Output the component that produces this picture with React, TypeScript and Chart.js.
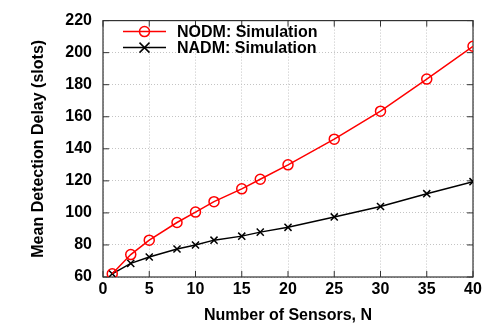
import React, { useEffect, useRef } from "react";
import { Chart, registerables } from "chart.js";

Chart.register(...registerables);

const sensors = [1, 3, 5, 8, 10, 12, 15, 17, 20, 25, 30, 35, 40];
const nodmValues = [62, 74, 83, 94, 100.5, 107, 115, 121, 130, 146, 163.5, 183.5, 204];
const nadmValues = [62, 68.5, 72.5, 77.5, 80, 83, 85.5, 88, 91, 97.5, 104, 112, 119.5];
const seriesLabels = ["NODM: Simulation", "NADM: Simulation"];
const xTitle = "Number of Sensors, N";
const yTitle = "Mean Detection Delay (slots)";

const FONT = "'Liberation Sans', Arial, Helvetica, sans-serif";

const framePlugin = {
  id: "frame",
  beforeDatasetsDraw(chart: any) {
    const { ctx, chartArea: a, scales } = chart;
    ctx.save();
    ctx.strokeStyle = "#333";
    ctx.lineWidth = 1.2;
    ctx.setLineDash([]);
    ctx.strokeRect(a.left, a.top, a.right - a.left, a.bottom - a.top);
    const tl = 6;
    ctx.lineWidth = 1;
    ctx.beginPath();
    scales.x.ticks.forEach((t: any) => {
      const px = scales.x.getPixelForValue(t.value);
      ctx.moveTo(px, a.bottom);
      ctx.lineTo(px, a.bottom - tl);
      ctx.moveTo(px, a.top);
      ctx.lineTo(px, a.top + tl);
    });
    scales.y.ticks.forEach((t: any) => {
      const py = scales.y.getPixelForValue(t.value);
      ctx.moveTo(a.left, py);
      ctx.lineTo(a.left + tl, py);
      ctx.moveTo(a.right, py);
      ctx.lineTo(a.right - tl, py);
    });
    ctx.stroke();
    ctx.restore();
  },
  afterDatasetsDraw(chart: any) {
    const { ctx, chartArea: a } = chart;
    ctx.save();
    const x0 = a.left + 20;
    const x1 = a.left + 63;
    const xm = (x0 + x1) / 2;
    const rows = [a.top + 11, a.top + 27];
    chart.data.datasets.forEach((ds: any, i: number) => {
      const y = rows[i];
      ctx.strokeStyle = ds.borderColor;
      ctx.lineWidth = 1.5;
      ctx.beginPath();
      ctx.moveTo(x0, y);
      ctx.lineTo(x1, y);
      ctx.stroke();
      ctx.beginPath();
      if (ds.pointStyle === "circle") {
        ctx.arc(xm, y, 5, 0, Math.PI * 2);
      } else {
        const r = 5;
        ctx.moveTo(xm - r, y - r);
        ctx.lineTo(xm + r, y + r);
        ctx.moveTo(xm - r, y + r);
        ctx.lineTo(xm + r, y - r);
      }
      ctx.stroke();
      ctx.fillStyle = "#000";
      ctx.font = `bold 16px ${FONT}`;
      ctx.textBaseline = "middle";
      ctx.textAlign = "left";
      ctx.fillText(ds.label, x1 + 11, y + 1);
    });
    ctx.restore();
  },
};

export default function App() {
  const ref = useRef<HTMLCanvasElement>(null);
  useEffect(() => {
    if (!ref.current) return;
    const chart = new Chart(ref.current, {
      type: "line",
      data: {
        datasets: [
          {
            label: seriesLabels[0],
            data: sensors.map((x, i) => ({ x, y: nodmValues[i] })),
            borderColor: "#ff0000",
            backgroundColor: "transparent",
            borderWidth: 1.5,
            pointStyle: "circle",
            pointRadius: 5,
            pointBorderWidth: 1.5,
            pointBorderColor: "#ff0000",
            pointBackgroundColor: "transparent",
            tension: 0,
          },
          {
            label: seriesLabels[1],
            data: sensors.map((x, i) => ({ x, y: nadmValues[i] })),
            borderColor: "#000000",
            backgroundColor: "transparent",
            borderWidth: 1.5,
            pointStyle: "crossRot",
            pointRadius: 5,
            pointBorderWidth: 1.5,
            pointBorderColor: "#000000",
            tension: 0,
          },
        ],
      },
      options: {
        responsive: false,
        animation: false,
        devicePixelRatio: 1,
        layout: { padding: { left: 0, top: 19, right: 18, bottom: 0 } },
        plugins: { legend: { display: false }, tooltip: { enabled: false } },
        scales: {
          x: {
            type: "linear",
            min: 0,
            max: 40,
            afterFit: (s: any) => {
              s.height = 50;
            },
            ticks: {
              stepSize: 5,
              padding: 3,
              color: "#000",
              font: { family: FONT, size: 16, weight: "bold" },
            },
            grid: { color: "#c4c4c4", lineWidth: 1, drawTicks: false },
            border: { display: false, dash: [1, 2] },
            title: {
              display: true,
              text: xTitle,
              color: "#000",
              font: { family: FONT, size: 16, weight: "bold" },
              padding: { top: 0, bottom: 1.5 },
            },
          },
          y: {
            type: "linear",
            min: 60,
            max: 220,
            afterFit: (s: any) => {
              s.width = 103;
            },
            ticks: {
              stepSize: 20,
              padding: 11,
              color: "#000",
              font: { family: FONT, size: 16, weight: "bold" },
            },
            grid: { color: "#c4c4c4", lineWidth: 1, drawTicks: false },
            border: { display: false, dash: [1, 2] },
            title: {
              display: true,
              text: yTitle,
              color: "#000",
              font: { family: FONT, size: 16, weight: "bold" },
              padding: { top: 29, bottom: 0 },
            },
          },
        },
      },
      plugins: [framePlugin],
    } as any);
    return () => chart.destroy();
  }, []);
  return (
    <div style={{ position: "absolute", left: 0, top: 0, width: 491, height: 327, background: "#fff" }}>
      <canvas ref={ref} width={491} height={327} style={{ width: 491, height: 327, display: "block" }} />
    </div>
  );
}
